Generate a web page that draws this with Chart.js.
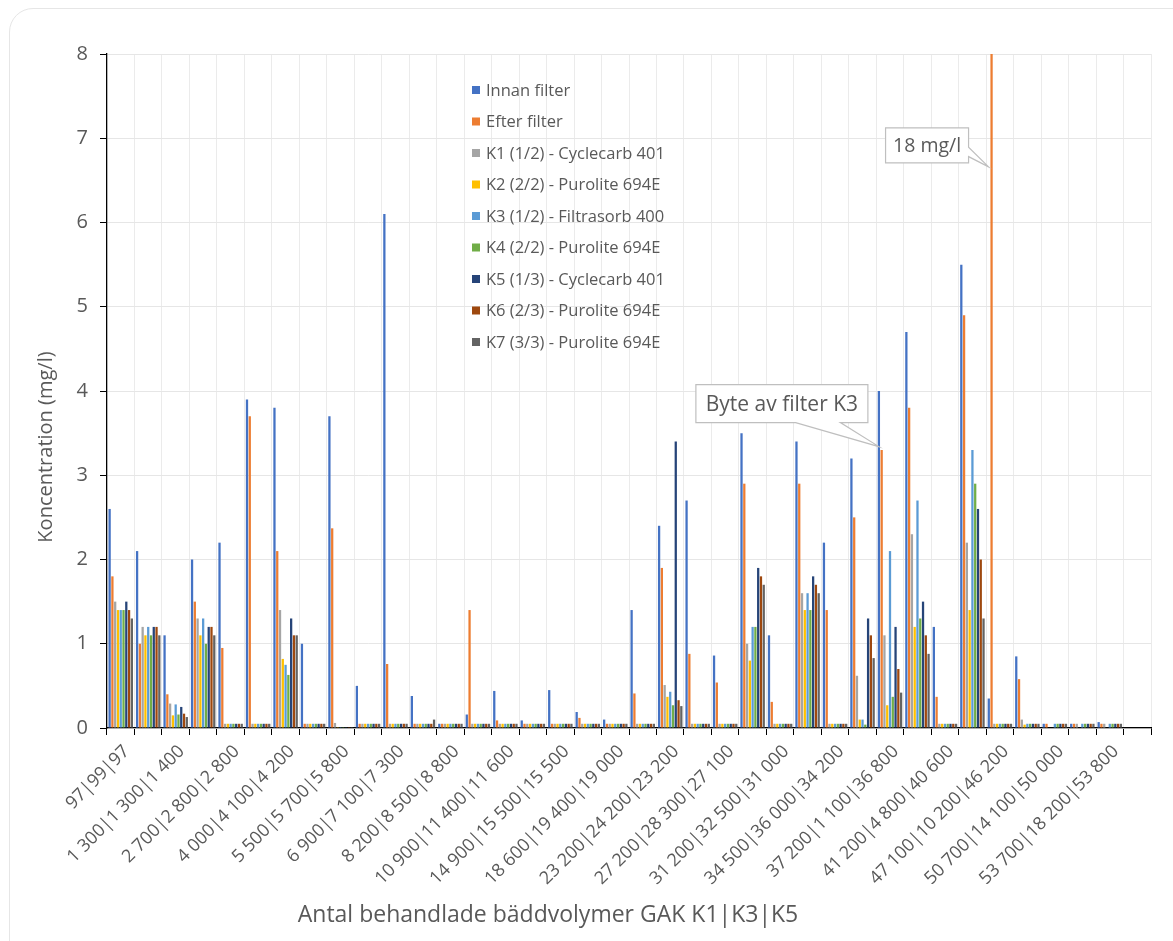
<!DOCTYPE html>
<html>
<head>
<meta charset="utf-8">
<script src="https://cdn.jsdelivr.net/npm/chart.js@4.4.1/dist/chart.umd.min.js"></script>
<style>
  html, body { margin: 0; padding: 0; background: #ffffff; }
  #wrap { position: relative; width: 1173px; height: 941px; overflow: hidden; }
  #card { position: absolute; left: 9px; top: 8px; width: 1220px; height: 1000px;
          border: 1px solid #e6e6e6; border-radius: 24px; box-sizing: border-box; background: #fff; }
  canvas { position: absolute; left: 0; top: 0; }
</style>
</head>
<body>
<div id="wrap">
  <div id="card"></div>
  <canvas id="chart" width="1173" height="941"></canvas>
</div>
<script>
// Bed volumes treated (K1|K3|K5); only every second category carries a label on the axis
const categories = [
  '97|99|97', '', '1 300|1 300|1 400', '', '2 700|2 800|2 800', '',
  '4 000|4 100|4 200', '', '5 500|5 700|5 800', '', '6 900|7 100|7 300', '',
  '8 200|8 500|8 800', '', '10 900|11 400|11 600', '', '14 900|15 500|15 500', '',
  '18 600|19 400|19 000', '', '23 200|24 200|23 200', '', '27 200|28 300|27 100', '',
  '31 200|32 500|31 000', '', '34 500|36 000|34 200', '', '37 200|1 100|36 800', '',
  '41 200|4 800|40 600', '', '47 100|10 200|46 200', '', '50 700|14 100|50 000', '',
  '53 700|18 200|53 800', ''
];

// Concentrations in mg/l
const innanFilter = [2.6, 2.1, 1.1, 2.0, 2.2, 3.9, 3.8, 1.0, 3.7, 0.5, 6.1, 0.38, 0.05, 0.16, 0.44, 0.09, 0.45, 0.19, 0.1, 1.4,
                     2.4, 2.7, 0.86, 3.5, 1.1, 3.4, 2.2, 3.2, 4.0, 4.7, 1.2, 5.5, 0.35, 0.85, 0.05, 0.05, 0.07, null];
const efterFilter = [1.8, 1.0, 0.4, 1.5, 0.95, 3.7, 2.1, 0.05, 2.37, 0.05, 0.76, 0.05, 0.05, 1.4, 0.09, 0.05, 0.05, 0.12, 0.05, 0.41,
                     1.9, 0.88, 0.54, 2.9, 0.31, 2.9, 1.4, 2.5, 3.3, 3.8, 0.37, 4.9, 18, 0.58, 0.05, 0.05, 0.05, null];
const k1 = [1.5, 1.2, 0.29, 1.3, 0.05, 0.05, 1.4, 0.05, 0.06, 0.05, 0.05, 0.05, 0.05, 0.05, 0.05, 0.05, 0.05, 0.05, 0.05, 0.05,
            0.51, 0.05, 0.05, 1.0, 0.05, 1.6, 0.05, 0.62, 1.1, 2.3, 0.05, 2.2, 0.05, 0.1, null, 0.05, 0.05, null];
const k2 = [1.4, 1.1, 0.15, 1.1, 0.05, 0.05, 0.82, 0.05, 0.01, 0.05, 0.05, 0.05, 0.05, 0.05, 0.05, 0.05, 0.05, 0.05, 0.05, 0.05,
            0.37, 0.05, 0.05, 0.8, 0.05, 1.4, 0.05, 0.1, 0.27, 1.2, 0.05, 1.4, 0.05, 0.04, null, null, null, null];
const k3 = [1.4, 1.2, 0.28, 1.3, 0.05, 0.05, 0.75, 0.05, 0.01, 0.05, 0.05, 0.05, 0.05, 0.05, 0.05, 0.05, 0.05, 0.05, 0.05, 0.05,
            0.43, 0.05, 0.05, 1.2, 0.05, 1.6, 0.05, 0.1, 2.1, 2.7, 0.05, 3.3, 0.05, 0.05, 0.05, 0.05, 0.05, null];
const k4 = [1.4, 1.1, 0.16, 1.0, 0.05, 0.05, 0.63, 0.05, 0.01, 0.05, 0.05, 0.05, 0.05, 0.05, 0.05, 0.05, 0.05, 0.05, 0.05, 0.05,
            0.27, 0.05, 0.05, 1.2, 0.05, 1.4, 0.05, 0.04, 0.37, 1.3, 0.05, 2.9, 0.05, 0.05, 0.05, 0.05, 0.05, null];
const k5 = [1.5, 1.2, 0.25, 1.2, 0.05, 0.05, 1.3, 0.05, 0.01, 0.05, 0.05, 0.05, 0.05, 0.05, 0.05, 0.05, 0.05, 0.05, 0.05, 0.05,
            3.4, 0.05, 0.05, 1.9, 0.05, 1.8, 0.05, 1.3, 1.2, 1.5, 0.05, 2.6, 0.05, 0.05, 0.05, 0.05, 0.05, null];
const k6 = [1.4, 1.2, 0.17, 1.2, 0.05, 0.05, 1.1, 0.05, 0.01, 0.05, 0.05, 0.05, 0.05, 0.05, 0.05, 0.05, 0.05, 0.05, 0.05, 0.05,
            0.33, 0.05, 0.05, 1.8, 0.05, 1.7, 0.05, 1.1, 0.7, 1.1, 0.05, 2.0, 0.05, 0.05, 0.05, 0.05, 0.05, null];
const k7 = [1.3, 1.1, 0.13, 1.1, 0.05, 0.05, 1.1, 0.05, 0.01, 0.05, 0.05, 0.1, 0.05, 0.05, 0.05, 0.05, 0.05, 0.05, 0.05, 0.05,
            0.26, 0.05, 0.05, 1.7, 0.05, 1.6, 0.05, 0.83, 0.42, 0.88, 0.05, 1.3, 0.05, 0.05, 0.05, 0.05, 0.05, null];

const seriesNames = [
  'Innan filter', 'Efter filter',
  'K1 (1/2) - Cyclecarb 401', 'K2 (2/2) - Purolite 694E',
  'K3 (1/2) - Filtrasorb 400', 'K4 (2/2) - Purolite 694E',
  'K5 (1/3) - Cyclecarb 401', 'K6 (2/3) - Purolite 694E', 'K7 (3/3) - Purolite 694E'
];
const seriesValues = [innanFilter, efterFilter, k1, k2, k3, k4, k5, k6, k7];
const seriesColors = ['#4472C4', '#ED7D31', '#A5A5A5', '#FFC000', '#5B9BD5', '#70AD47', '#264478', '#9E480E', '#636363'];

const yTicks = [0, 1, 2, 3, 4, 5, 6, 7, 8];
const xTitle = 'Antal behandlade bäddvolymer GAK K1|K3|K5';
const yTitle = 'Koncentration (mg/l)';

const TEXT = '#595959';
const FONT = '"Open Sans", "DejaVu Sans", sans-serif';
Chart.defaults.font.family = FONT;
Chart.defaults.color = TEXT;

// Legend inside the plot, axis titles and the two callouts
const overlay = {
  id: 'overlay',
  afterDatasetsDraw(chart) {
    const { ctx, chartArea: ca, scales } = chart;
    ctx.save();

    // legend
    ctx.font = '16.5px ' + FONT;
    ctx.textBaseline = 'middle';
    ctx.textAlign = 'left';
    seriesNames.forEach((name, i) => {
      const y = ca.top + 36 + i * 31.5;
      ctx.fillStyle = seriesColors[i];
      ctx.fillRect(ca.left + 365, y - 4, 8, 8);
      ctx.fillStyle = TEXT;
      ctx.fillText(name, ca.left + 379, y + 1);
    });

    // callout: value beyond the axis
    const barOver = chart.getDatasetMeta(1).data[32];
    drawCallout(ctx, '18 mg/l', 19.5,
      { x: barOver.x - 3, y: scales.y.getPixelForValue(6.66) },
      { dx: -103, dy: -39, w: 83, h: 35 },
      'right');

    // callout: filter change on K3
    const barSwap = chart.getDatasetMeta(0).data[28];
    drawCallout(ctx, 'Byte av filter K3', 21,
      { x: barSwap.x, y: scales.y.getPixelForValue(3.34) },
      { dx: -183, dy: -62, w: 172, h: 38 },
      'bottom');

    ctx.restore();
  },
  afterDraw(chart) {
    const { ctx } = chart;
    ctx.save();
    ctx.fillStyle = TEXT;
    ctx.textAlign = 'center';
    ctx.textBaseline = 'middle';
    ctx.font = '23px ' + FONT;
    ctx.fillText(xTitle, 548, 915);
    ctx.font = '20px ' + FONT;
    ctx.translate(46, 447);
    ctx.rotate(-Math.PI / 2);
    ctx.fillText(yTitle, 0, 0);
    ctx.restore();
  }
};

function drawCallout(ctx, text, size, tip, box, side) {
  const x0 = tip.x + box.dx, y0 = tip.y + box.dy;
  const x1 = x0 + box.w, y1 = y0 + box.h;
  ctx.beginPath();
  if (side === 'right') {
    const a = y0 + box.h * 0.55, b = y0 + box.h * 0.82;
    ctx.moveTo(x0, y0); ctx.lineTo(x1, y0); ctx.lineTo(x1, a);
    ctx.lineTo(tip.x, tip.y); ctx.lineTo(x1, b);
    ctx.lineTo(x1, y1); ctx.lineTo(x0, y1); ctx.closePath();
  } else {
    const a = x0 + box.w * 0.58, b = x0 + box.w * 0.84;
    ctx.moveTo(x0, y0); ctx.lineTo(x1, y0); ctx.lineTo(x1, y1);
    ctx.lineTo(b, y1); ctx.lineTo(tip.x, tip.y); ctx.lineTo(a, y1);
    ctx.lineTo(x0, y1); ctx.closePath();
  }
  ctx.fillStyle = '#ffffff';
  ctx.fill();
  ctx.strokeStyle = '#bfbfbf';
  ctx.lineWidth = 1.2;
  ctx.stroke();
  ctx.fillStyle = TEXT;
  ctx.font = size + 'px ' + FONT;
  ctx.textAlign = 'center';
  ctx.textBaseline = 'middle';
  ctx.fillText(text, (x0 + x1) / 2, (y0 + y1) / 2 + 1);
}

new Chart(document.getElementById('chart').getContext('2d'), {
  type: 'bar',
  data: {
    labels: categories,
    datasets: seriesNames.map((name, i) => ({
      label: name,
      data: seriesValues[i],
      backgroundColor: seriesColors[i],
      borderWidth: 0,
      categoryPercentage: 0.91,
      barPercentage: 0.82
    }))
  },
  options: {
    responsive: false,
    animation: false,
    devicePixelRatio: 1,
    layout: { padding: { left: 10, right: 22, top: 54, bottom: 0 } },
    plugins: { legend: { display: false }, tooltip: { enabled: false } },
    scales: {
      x: {
        grid: { color: '#ebebeb', lineWidth: 1, tickColor: '#000000', tickLength: 7, offset: true },
        border: { color: '#000000', width: 1.3 },
        ticks: { autoSkip: false, maxRotation: 45, minRotation: 45, color: TEXT, font: { size: 18 },
                 padding: 6, labelOffset: 6 },
        afterFit(scale) { scale.height = 213; }
      },
      y: {
        min: 0, max: 8,
        afterBuildTicks(scale) { scale.ticks = yTicks.map(v => ({ value: v })); },
        grid: { color: '#e6e6e6', lineWidth: 1, tickColor: '#000000', tickLength: 7 },
        border: { color: '#000000', width: 1.3 },
        ticks: { color: TEXT, font: { size: 20 }, padding: 12 },
        afterFit(scale) { scale.width = 97; }
      }
    }
  },
  plugins: [overlay]
});
</script>
</body>
</html>
